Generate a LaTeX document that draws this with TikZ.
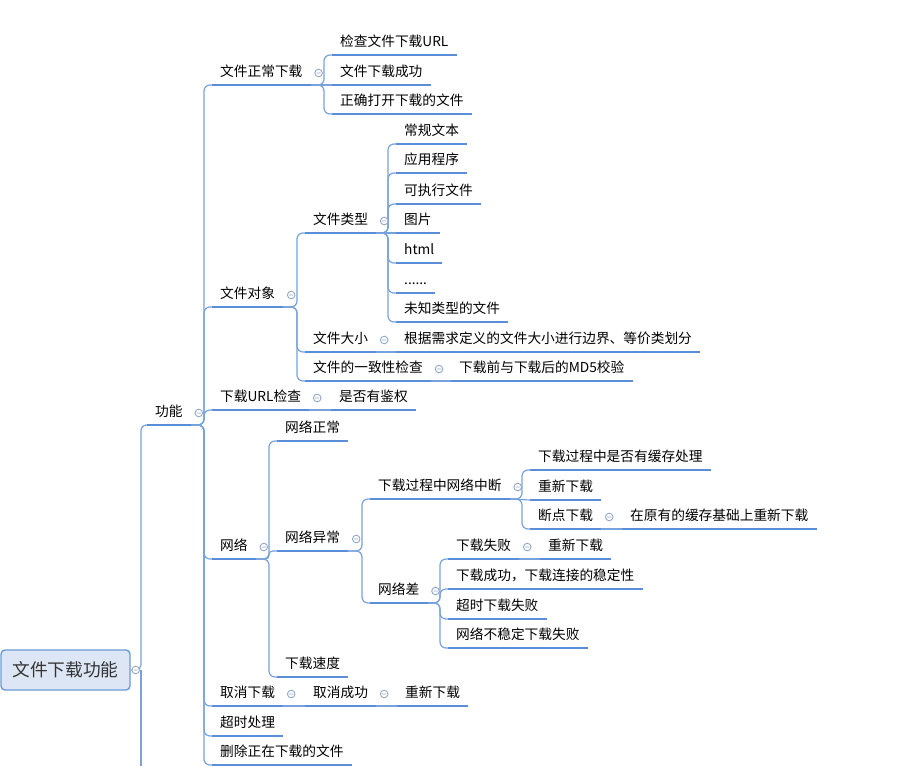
\documentclass[tikz,border=0pt]{standalone}
\usepackage{fontspec}
\setmainfont{Noto Sans CJK SC}
\definecolor{ulc}{HTML}{5A8ED8}
\definecolor{cnc}{HTML}{78A2DD}
\definecolor{fdc}{HTML}{93A9C9}
\definecolor{rootc}{HTML}{6C9BD8}
\definecolor{rootf}{HTML}{DCE6F4}
\newcommand\mmlink[3][6pt]{\draw[conn,rounded corners=#1] (#2.south east) -- ([xshift=-8pt]#3.south west |- #2.south east) |- (#3.south west);}
\newcommand\mmline[2]{\draw[conn] (#1.south east) -- (#2.south west);}
\newcommand\mmfold[1]{\draw[fold] ([shift={(8pt,12pt)}]#1.south east) circle[radius=3.8pt] ++(-2pt,0) -- ++(4pt,0);}
\begin{document}
\begin{tikzpicture}[x=1pt,y=-1pt,
  mm/.style={anchor=south west,inner xsep=8pt,inner ysep=8pt,text depth=0pt,font=\fontsize{13.7}{16}\selectfont,text=black},
  ul/.style={draw=ulc,line width=2.9pt},
  conn/.style={draw=cnc,line width=1.2pt},
  fold/.style={draw=fdc,line width=0.9pt,fill=white},
  rootbox/.style={draw=rootc,fill=rootf,line width=1.4pt,rounded corners=4pt,minimum width=129pt,minimum height=40pt,font=\fontsize{17.7}{20}\selectfont,text=black!80}]
\fill[white] (0,0) rectangle (904,766);
\useasboundingbox (0,0) rectangle (904,766);

\node[rootbox] (root) at (65.5,670) {文件下载功能};
\node[mm] (gn) at (147,425) {功能};

\node[mm] (a1) at (212,85) {文件正常下载};
\node[mm] (c11) at (332,55) {检查文件下载URL};
\node[mm] (c12) at (332,85) {文件下载成功};
\node[mm] (c13) at (332,114) {正确打开下载的文件};

\node[mm] (a2) at (212,307) {文件对象};
\node[mm] (b1) at (305,233) {文件类型};
\node[mm] (t1) at (396,144) {常规文本};
\node[mm] (t2) at (396,173) {应用程序};
\node[mm] (t3) at (396,204) {可执行文件};
\node[mm] (t4) at (396,233) {图片};
\node[mm] (t5) at (396,263) {html};
\node[mm] (t6) at (396,293) {......};
\node[mm] (t7) at (396,322) {未知类型的文件};
\node[mm] (b2) at (305,352) {文件大小};
\node[mm] (s1) at (396,352) {根据需求定义的文件大小进行边界、等价类划分};
\node[mm] (b3) at (305,381) {文件的一致性检查};
\node[mm] (m1) at (451,381) {下载前与下载后的MD5校验};

\node[mm] (a3) at (212,410) {下载URL检查};
\node[mm] (u1) at (331,410) {是否有鉴权};

\node[mm] (a4) at (212,559) {网络};
\node[mm] (w1) at (277,441) {网络正常};
\node[mm] (w2) at (277,551) {网络异常};
\node[mm] (x1) at (370,499) {下载过程中网络中断};
\node[mm] (y1) at (530,470) {下载过程中是否有缓存处理};
\node[mm] (y2) at (530,500) {重新下载};
\node[mm] (y3) at (530,529) {断点下载};
\node[mm] (z1) at (622,529) {在原有的缓存基础上重新下载};
\node[mm] (x2) at (370,603) {网络差};
\node[mm] (v1) at (448,559) {下载失败};
\node[mm] (v11) at (540,559) {重新下载};
\node[mm] (v2) at (448,589) {下载成功，下载连接的稳定性};
\node[mm] (v3) at (448,619) {超时下载失败};
\node[mm] (v4) at (448,648) {网络不稳定下载失败};
\node[mm] (w3) at (277,677) {下载速度};

\node[mm] (a5) at (212,706) {取消下载};
\node[mm] (k1) at (305,706) {取消成功};
\node[mm] (k2) at (397,706) {重新下载};
\node[mm] (a6) at (212,736) {超时处理};
\node[mm] (a7) at (212,765) {删除正在下载的文件};

% connectors
\coordinate (rt) at (141,670);
\coordinate (rootdown) at (141,766);
\draw[conn,rounded corners=5pt] (root.east) -- (rt) |- (gn.south west);
\draw[conn] (rt) -- (rootdown);

\mmlink{gn}{a1}
\mmlink{gn}{a2}
\mmlink{gn}{a3}
\mmlink{gn}{a4}
\mmlink{gn}{a5}
\mmlink{gn}{a6}
\mmlink{gn}{a7}

\mmlink{a1}{c11}
\mmline{a1}{c12}
\mmlink{a1}{c13}

\mmlink{a2}{b1}
\mmlink{a2}{b2}
\mmlink{a2}{b3}
\mmlink{b1}{t1}
\mmlink{b1}{t2}
\mmlink{b1}{t3}
\mmline{b1}{t4}
\mmlink{b1}{t5}
\mmlink{b1}{t6}
\mmlink{b1}{t7}
\mmline{b2}{s1}
\mmline{b3}{m1}

\mmline{a3}{u1}

\mmlink{a4}{w1}
\mmlink[3.5pt]{a4}{w2}
\mmlink{a4}{w3}
\mmlink{w2}{x1}
\mmlink{w2}{x2}
\mmlink{x1}{y1}
\mmline{x1}{y2}
\mmlink{x1}{y3}
\mmline{y3}{z1}
\mmlink{x2}{v1}
\mmlink{x2}{v2}
\mmlink{x2}{v3}
\mmlink{x2}{v4}
\mmline{v1}{v11}

\mmline{a5}{k1}
\mmline{k1}{k2}

% underlines
\foreach \n in {gn,a1,c11,c12,c13,a2,b1,t1,t2,t3,t4,t5,t6,t7,b2,s1,b3,m1,a3,u1,a4,w1,w2,x1,y1,y2,y3,z1,x2,v1,v11,v2,v3,v4,w3,a5,k1,k2,a6,a7}
  \draw[ul] (\n.south west) -- (\n.south east);

% fold markers
\draw[fold] ([xshift=5pt]root.east) circle[radius=3.8pt] ++(-2pt,0) -- ++(4pt,0);
\mmfold{gn}
\mmfold{a1}
\mmfold{a2}
\mmfold{b1}
\mmfold{b2}
\mmfold{b3}
\mmfold{a3}
\mmfold{a4}
\mmfold{w2}
\mmfold{x1}
\mmfold{y3}
\mmfold{x2}
\mmfold{v1}
\mmfold{a5}
\mmfold{k1}
\end{tikzpicture}
\end{document}
